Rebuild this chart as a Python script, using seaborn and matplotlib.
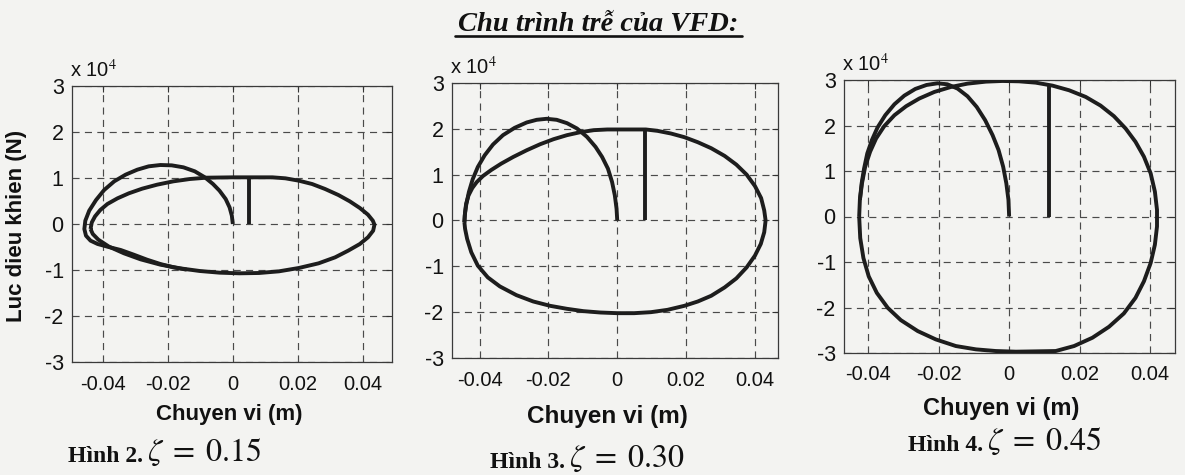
import matplotlib
matplotlib.use("Agg")
import matplotlib.pyplot as plt
import pandas as pd
import seaborn as sns
from matplotlib.ticker import FixedLocator, FuncFormatter
from matplotlib.lines import Line2D

# ---------------- data: displacement (m) and control force (N) ----------------
# zeta = 0.15 : start-up transient, steady hysteresis loop, initial force step
arc1_x = [0.0, -0.0003, -0.0010, -0.0022, -0.0041, -0.0061, -0.0086, -0.0117, -0.0152,
          -0.0188, -0.0223, -0.0259, -0.0294, -0.0330, -0.0365, -0.0396, -0.0421, -0.0442,
          -0.0454, -0.0457, -0.0452, -0.0438, -0.0416, -0.0386, -0.0345, -0.0305, -0.0264,
          -0.0223, -0.0183, -0.0142]
arc1_F = [0, 1810, 3620, 5435, 7245, 8695, 10145, 11450, 12320,
          12750, 12825, 12535, 11810, 10725, 9275, 7390, 5215, 2900,
          725, -1090, -2535, -3620, -4350, -4930, -5650, -6665, -7755,
          -8695, -9420, -9925]
loop1_x = [-0.0438, -0.0434, -0.0424, -0.0408, -0.0386, -0.0355, -0.0320, -0.0279, -0.0233,
           -0.0183, -0.0132, -0.0081, 0.0, 0.0122, 0.0162, 0.0203, 0.0244, 0.0284, 0.0325,
           0.0360, 0.0391, 0.0416, 0.0431, 0.0436, 0.0432, 0.0416, 0.0391, 0.0355, 0.0315,
           0.0264, 0.0203, 0.0142, 0.0081, 0.0020, -0.0041, -0.0102, -0.0162, -0.0223,
           -0.0284, -0.0335, -0.0381, -0.0414, -0.0431, -0.0438]
loop1_F = [-1090, 360, 1670, 3040, 4350, 5580, 6670, 7680, 8550,
           9275, 9780, 10070, 10145, 10145, 9930, 9420, 8695, 7610, 6300,
           4930, 3480, 2030, 725, -145, -1450, -2900, -4350, -5800, -7245,
           -8550, -9565, -10290, -10650, -10720, -10580, -10215, -9640, -8840,
           -7680, -6375, -4930, -3405, -2175, -1090]
step1_x = [0.0051, 0.0051]
step1_F = [0, 10145]

# zeta = 0.30
arc2_x = [0.0, -0.0002, -0.0007, -0.0015, -0.0027, -0.0044, -0.0063, -0.0088, -0.0117,
          -0.0146, -0.0176, -0.0205, -0.0234, -0.0263, -0.0298, -0.0332, -0.0361, -0.0385,
          -0.0405, -0.0420, -0.0431, -0.0439, -0.0443, -0.0444]
arc2_F = [0, 2555, 5475, 8395, 11315, 13870, 16060, 18250, 20075,
          21240, 21970, 22190, 21970, 21390, 20220, 18615, 16570, 14235,
          11680, 8980, 6205, 3285, 1095, -365]
loop2_x = [-0.0444, -0.0442, -0.0439, -0.0432, -0.0421, -0.0408, -0.0390, -0.0366, -0.0337,
           -0.0302, -0.0263, -0.0224, -0.0185, -0.0146, -0.0107, -0.0068, -0.0029, 0.0083,
           0.0117, 0.0156, 0.0195, 0.0234, 0.0273, 0.0312, 0.0346, 0.0376, 0.0400, 0.0418,
           0.0427, 0.0431, 0.0427, 0.0417, 0.0400, 0.0376, 0.0346, 0.0312, 0.0273, 0.0234,
           0.0195, 0.0146, 0.0098, 0.0049, 0.0, -0.0049, -0.0098, -0.0146, -0.0195, -0.0244,
           -0.0293, -0.0341, -0.0376, -0.0405, -0.0424, -0.0436, -0.0442, -0.0444]
loop2_F = [-365, 1825, 3650, 5475, 7080, 8395, 9710, 11020, 12410,
           13870, 15330, 16640, 17740, 18620, 19270, 19710, 19860, 19860,
           19560, 18980, 18180, 17080, 15770, 14090, 12190, 10000, 7520, 4890,
           2190, 0, -2555, -5110, -7665, -10220, -12630, -14600, -16425, -17670,
           -18615, -19490, -20000, -20220, -20220, -20075, -19780, -19270, -18615, -17670,
           -16280, -14380, -12410, -9855, -6935, -4015, -1825, -365]
step2_x = [0.0081, 0.0081]
step2_F = [0, 19860]

# zeta = 0.45
arc3_x = [0.0, -0.0002, -0.0008, -0.0017, -0.0030, -0.0047, -0.0068, -0.0092, -0.0118,
          -0.0146, -0.0175, -0.0203, -0.0234, -0.0266, -0.0297, -0.0325, -0.0351, -0.0373,
          -0.0389, -0.0402, -0.0411, -0.0418, -0.0423]
arc3_F = [0, 3650, 7300, 10950, 14600, 17885, 21170, 24090, 26425,
          28105, 29055, 29275, 28910, 28030, 26570, 24675, 22265, 19565,
          16790, 13870, 10585, 7300, 3650]
loop3_x = [-0.0425, -0.0423, -0.0417, -0.0408, -0.0394, -0.0377, -0.0354, -0.0325, -0.0292,
           -0.0255, -0.0212, -0.0165, -0.0118, -0.0066, -0.0019, 0.0028, 0.0075, 0.0123,
           0.0170, 0.0217, 0.0259, 0.0297, 0.0330, 0.0358, 0.0382, 0.0401, 0.0413, 0.0419,
           0.0419, 0.0413, 0.0401, 0.0382, 0.0358, 0.0325, 0.0283, 0.0236, 0.0184, 0.0132,
           0.0075, 0.0019, -0.0038, -0.0094, -0.0151, -0.0208, -0.0259, -0.0307, -0.0344,
           -0.0375, -0.0398, -0.0413, -0.0422, -0.0425]
loop3_F = [0, 3650, 7300, 10950, 14235, 17155, 19855, 22265, 24235,
           25915, 27375, 28470, 29200, 29640, 29785, 29710, 29420, 28760,
           27740, 26280, 24380, 22045, 19345, 16425, 13140, 9490, 5475, 1460,
           -2190, -6205, -10220, -14235, -17885, -21315, -24235, -26645, -28470, -29565,
           -29640, -29710, -29565, -29200, -28470, -27010, -25185, -22775, -20075,
           -16790, -13140, -9125, -4745, 0]
step3_x = [0.0113, 0.0113]
step3_F = [0, 28700]

x_ticks = [-0.04, -0.02, 0, 0.02, 0.04]
x_tick_labels = ["-0.04", "-0.02", "0", "0.02", "0.04"]
y_ticks = [-30000, -20000, -10000, 0, 10000, 20000, 30000]
figure_numbers = ["Hình 2.", "Hình 3.", "Hình 4."]
zeta_values = ["0.15", "0.30", "0.45"]
title_text = "Chu trình trễ của VFD:"
x_label = "Chuyen vi (m)"
y_label = "Luc dieu khien (N)"

# ---------------- style ----------------
sns.set_style("white")
plt.rcParams["font.family"] = ["Liberation Sans", "DejaVu Sans"]
plt.rcParams["mathtext.fontset"] = "stix"

PAPER = "#f3f3f1"
INK = "#1d1d1d"
GRID = "#4a4a4a"
W, H = 1185.0, 475.0

fig = plt.figure(figsize=(11.85, 4.75), dpi=100, facecolor=PAPER)


def fx(px):
    return px / W


def fy(py):
    return 1 - py / H


panels = [
    dict(box=(72, 86, 392, 362), xlim=(-0.0495, 0.049),
         curves=[(arc1_x, arc1_F), (loop1_x, loop1_F), (step1_x, step1_F)],
         xlab=(229, 420, 16), cap=(68, 462)),
    dict(box=(452, 83, 778, 358), xlim=(-0.048, 0.0467),
         curves=[(arc2_x, arc2_F), (loop2_x, loop2_F), (step2_x, step2_F)],
         xlab=(607, 423, 17.5), cap=(490, 468)),
    dict(box=(844, 80, 1175, 353), xlim=(-0.0468, 0.047),
         curves=[(arc3_x, arc3_F), (loop3_x, loop3_F), (step3_x, step3_F)],
         xlab=(1001, 415, 17), cap=(908, 451)),
]

axes = []
for i, p in enumerate(panels):
    l, t, r, b = p["box"]
    ax = fig.add_axes([fx(l), fy(b), (r - l) / W, (b - t) / H])
    ax.set_facecolor(PAPER)
    rows = []
    for k, (xs, fs) in enumerate(p["curves"]):
        for xv, fv in zip(xs, fs):
            rows.append(dict(x=xv, F=fv, seg=k))
    df = pd.DataFrame(rows)
    sns.lineplot(data=df, x="x", y="F", units="seg", estimator=None, sort=False,
                 color=INK, lw=2.8, ax=ax, legend=False, zorder=3,
                 solid_joinstyle="round", solid_capstyle="butt")
    ax.set_xlim(*p["xlim"])
    ax.set_ylim(-30000, 30000)
    ax.xaxis.set_major_locator(FixedLocator(x_ticks))
    ax.set_xticklabels(x_tick_labels, fontsize=14.5)
    ax.yaxis.set_major_locator(FixedLocator(y_ticks))
    ax.yaxis.set_major_formatter(FuncFormatter(lambda v, _: f"{v / 1e4:g}"))
    for lab in ax.get_yticklabels():
        lab.set_fontsize(15.5)
    ax.tick_params(axis="x", pad=9)
    ax.tick_params(axis="y", pad=6)
    ax.tick_params(direction="in", length=4, width=0.8, top=True, right=True,
                   colors="#333333", labelcolor="#111111")
    ax.grid(True, linestyle=(0, (6, 4.5)), color=GRID, lw=0.85, zorder=1)
    for s in ax.spines.values():
        s.set_color("#3a3a3a")
        s.set_linewidth(0.9)
    ax.set_xlabel("")
    ax.set_ylabel("")
    # exponent marker above the force axis
    ax.text(-0.006, 1 + 9 / (b - t), r"x 10$^4$", transform=ax.transAxes,
            ha="left", va="baseline", fontsize=14.5, color="#111111")

    # axis title under the panel
    cx, by, fs = p["xlab"]
    fig.text(fx(cx), fy(by), x_label, ha="center", va="baseline",
             fontweight="bold", fontsize=fs, color="#111111")

    # caption: figure number and damping ratio
    lx, cb = p["cap"]
    tnum = fig.text(fx(lx), fy(cb), figure_numbers[i], ha="left", va="baseline",
                    fontfamily="Liberation Serif", fontweight="bold", fontsize=17,
                    color="#111111")
    ax.annotate(rf"$\zeta\;=\;{zeta_values[i]}$", xy=(1, 0), xycoords=tnum,
                xytext=(3, -1), textcoords="offset points", ha="left", va="bottom",
                fontsize=23, color="#111111")
    axes.append(ax)

# force label on the first panel
fig.text(fx(17), fy(226), y_label, rotation=90, ha="center", va="center",
         fontweight="bold", fontsize=16, color="#111111")

# heading with underline
fig.text(fx(598), fy(31), title_text, ha="center", va="baseline",
         fontfamily="Liberation Serif", fontweight="bold", fontstyle="italic",
         fontsize=20.5, color="#111111")
fig.add_artist(Line2D([fx(455), fx(742)], [fy(35.5), fy(35.5)],
                      transform=fig.transFigure, color="#111111", lw=1.9))

fig.savefig("out.png", dpi=100, facecolor=PAPER)
